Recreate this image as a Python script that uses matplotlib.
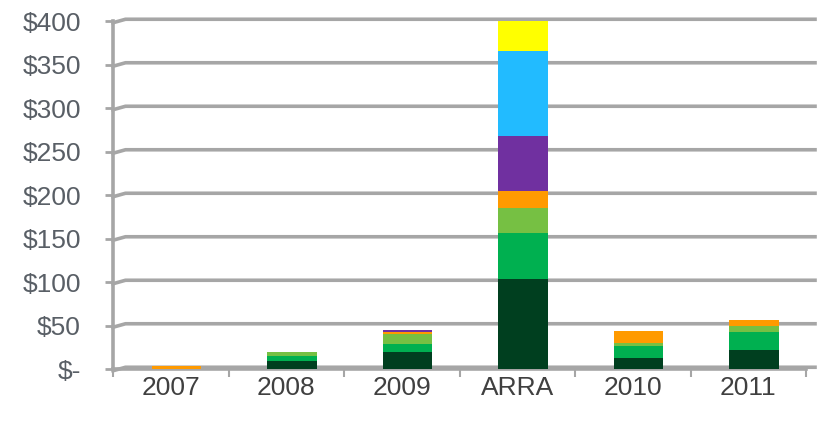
import matplotlib
matplotlib.use("Agg")
import matplotlib.pyplot as plt
import matplotlib.transforms as mtransforms
import numpy as np

categories = ["2007", "2008", "2009", "ARRA", "2010", "2011"]
series_names = ["S1", "S2", "S3", "S4", "S5", "S6", "S7"]
s1 = [0, 9, 19, 104, 13, 22]     # dark green
s2 = [0, 6, 10, 52, 13, 20]      # green
s3 = [0, 5, 11, 29, 4, 8]        # light green
s4 = [3, 0, 2, 20, 14, 6]        # orange
s5 = [0, 0, 3, 63, 0, 0]         # purple
s6 = [0, 0, 0, 98, 0, 0]         # blue
s7 = [0, 0, 0, 35, 0, 0]         # yellow
series = [s1, s2, s3, s4, s5, s6, s7]
colors = ["#003f1f", "#00b050", "#76c043", "#ff9a00", "#7030a0", "#22bbff", "#ffff00"]
yticks = [0, 50, 100, 150, 200, 250, 300, 350, 400]
ylabels = ["$-", "$50", "$100", "$150", "$200", "$250", "$300", "$350", "$400"]

plt.rcParams['font.family'] = ['Liberation Sans', 'DejaVu Sans']
fig = plt.figure(figsize=(8.23, 4.23), dpi=100)
ax = fig.add_axes([113/823, 1 - 369/423, (806-113)/823, (369-21)/423])

x = np.arange(len(categories))
bottom = np.zeros(len(categories))
for vals, c in zip(series, colors):
    v = np.array(vals, dtype=float)
    ax.bar(x + 0.05, v, 0.43, bottom=bottom, color=c, edgecolor='none', zorder=3)
    bottom += v

trans = mtransforms.blended_transform_factory(ax.transAxes, ax.transData)
for yv in yticks:
    ax.plot([0.0, 0.018, 1.013], [yv - 2, yv + 2, yv + 2], transform=trans,
            color="#a6a6a6", lw=2.6, zorder=1, clip_on=False, solid_joinstyle='round')

ax.set_xlim(-0.5, len(categories) - 0.5)
ax.set_ylim(0, 400)
ax.set_yticks(yticks)
ax.set_yticklabels(ylabels)
ax.set_xticks(x)
ax.set_xticklabels(categories)
ax.set_xticks(np.arange(len(categories) + 1) - 0.5, minor=True)
ax.tick_params(axis='x', which='major', length=0, pad=5, labelsize=19, labelcolor="#404040")
ax.tick_params(axis='x', which='minor', length=6, width=1.5, color="#a6a6a6")
ax.tick_params(axis='y', length=6, width=2, color="#a6a6a6", pad=17, labelsize=19, labelcolor="#595f66")
for s in ["top", "right"]:
    ax.spines[s].set_visible(False)
ax.spines["left"].set_color("#a6a6a6")
ax.spines["left"].set_linewidth(2.6)
ax.spines["bottom"].set_color("#a6a6a6")
ax.spines["bottom"].set_linewidth(2.6)
ax.set_facecolor("none")

fig.savefig("out.png", dpi=100)
